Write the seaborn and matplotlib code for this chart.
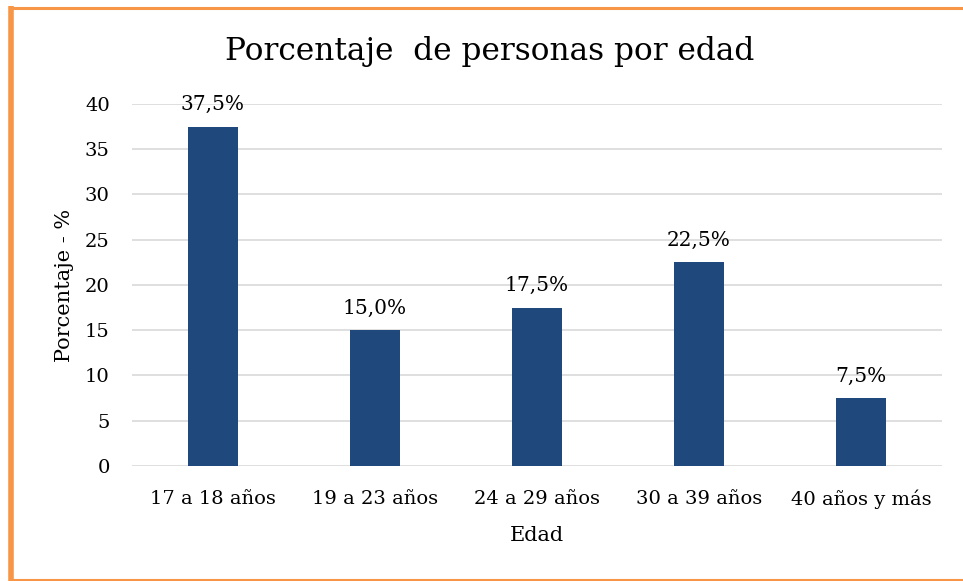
import matplotlib
matplotlib.use("Agg")
import matplotlib.pyplot as plt
import seaborn as sns
import pandas as pd
from matplotlib.lines import Line2D

categorias = ["17 a 18 años", "19 a 23 años", "24 a 29 años", "30 a 39 años", "40 años y más"]
porcentajes = [37.5, 15.0, 17.5, 22.5, 7.5]
yticks = [0, 5, 10, 15, 20, 25, 30, 35, 40]

sns.set_theme(style="white")
plt.rcParams['font.family'] = ['DejaVu Serif']
plt.rcParams['text.color'] = 'black'
plt.rcParams['axes.labelcolor'] = 'black'

df = pd.DataFrame({"Edad": categorias, "Porcentaje": porcentajes})

fig = plt.figure(figsize=(9.63, 5.81), dpi=100)
ax = fig.add_axes([0.137, 0.198, 0.841, 0.623])
sns.barplot(data=df, x="Edad", y="Porcentaje", color="#1F497D", width=0.31,
            saturation=1, ax=ax, zorder=3, linewidth=0)

ax.set_ylim(0, 40)
ax.set_yticks(yticks)
ax.yaxis.grid(True, color="#D9D9D9", linewidth=1.2, zorder=0)
ax.set_axisbelow(True)
for s in ax.spines.values():
    s.set_visible(False)
ax.tick_params(axis="both", length=0, labelsize=14, colors="black")
ax.tick_params(axis="y", pad=16)
ax.tick_params(axis="x", pad=17)

ax.bar_label(ax.containers[0], labels=[f"{v:.1f}".replace(".", ",") + "%" for v in porcentajes],
             fontsize=14.5, padding=9, color="black")

ax.set_xlabel("Edad", fontsize=15, labelpad=12, color="black")
ax.set_ylabel("Porcentaje - %", fontsize=15, labelpad=8, color="black")
fig.text(0.508, 0.912, "Porcentaje  de personas por edad", ha="center", va="center",
         fontsize=22.5, color="black")

# orange frame (left, top, bottom)
c = "#F79646"
fig.add_artist(Line2D([10.5/963, 10.5/963], [0, 1 - 6/581], transform=fig.transFigure, color=c,
                      linewidth=4, solid_capstyle="butt"))
fig.add_artist(Line2D([8.5/963, 1], [1 - 7.5/581, 1 - 7.5/581], transform=fig.transFigure, color=c,
                      linewidth=2.2, solid_capstyle="butt"))
fig.add_artist(Line2D([8.5/963, 1], [1 - 579.5/581, 1 - 579.5/581], transform=fig.transFigure, color=c,
                      linewidth=1.5, solid_capstyle="butt"))

fig.savefig("out.png", dpi=100)
